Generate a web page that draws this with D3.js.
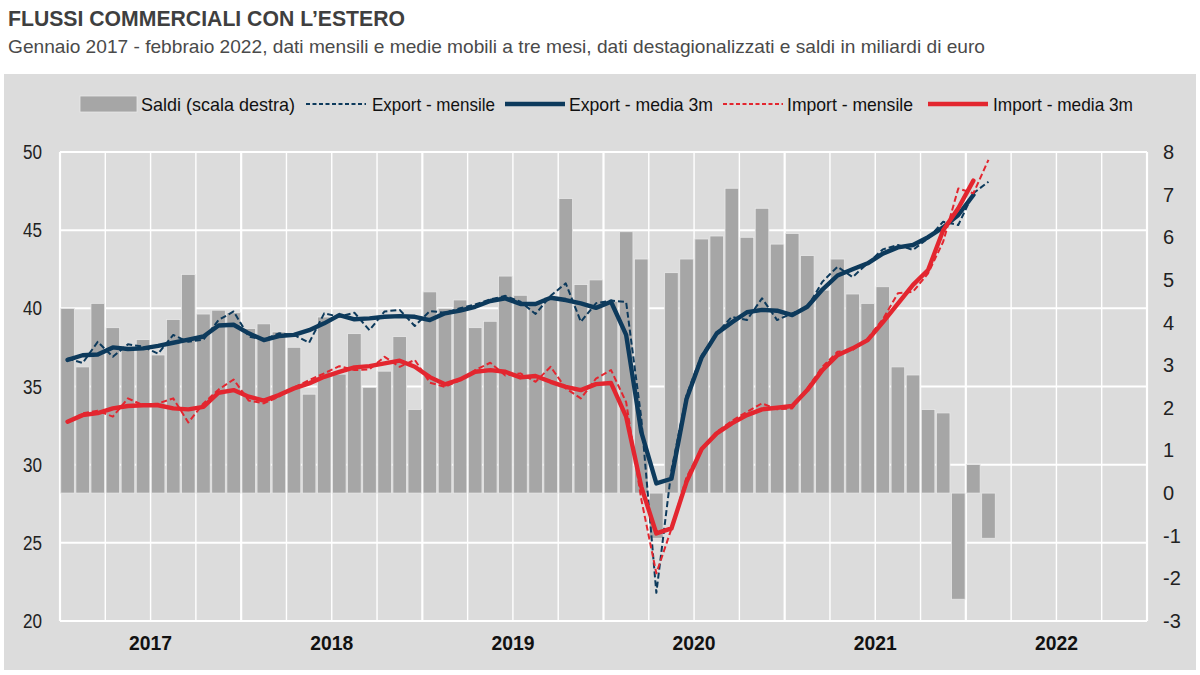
<!DOCTYPE html>
<html><head><meta charset="utf-8">
<script src="https://cdn.jsdelivr.net/npm/d3@7"></script>
<style>
body{margin:0;background:#fff}
svg{display:block}
text{font-family:"Liberation Sans Narrow","Arial Narrow","Liberation Sans",Arial,sans-serif}
</style>
</head><body>
<svg id="c" width="1200" height="675"></svg>
<script>
// ---------- DATA ----------
const years = ["2017","2018","2019","2020","2021","2022"];
const leftTicks = [20,25,30,35,40,45,50];
const rightTicks = [-3,-2,-1,0,1,2,3,4,5,6,7,8];
const legendLabels = ["Saldi (scala destra)","Export - mensile","Export - media 3m","Import - mensile","Import - media 3m"];

// monthly values from Jan 2017 (billions of euro)
const saldi = [4.33,2.96,4.45,3.88,3.36,3.6,3.24,4.07,5.13,4.2,4.29,4.23,
  3.86,3.97,3.78,3.42,2.32,4.13,2.79,3.74,2.48,2.86,3.67,1.96,
  4.72,4.33,4.53,3.88,4.03,5.09,4.64,4.45,4.6,6.91,4.89,5.0,
  4.5,6.13,5.49,-1.06,5.17,5.49,5.96,6.03,7.15,6.0,6.68,5.84,
  6.09,5.57,4.76,5.49,4.67,4.45,4.84,2.96,2.77,1.96,1.88,-2.49,
  0.67,-1.06];
const exportMensile = [36.8,36.5,37.86,36.9,37.7,37.55,37.1,38.3,37.86,38.0,39.25,39.8,
  38.2,38.0,38.4,38.3,37.8,39.68,39.46,39.72,38.6,39.8,39.9,38.87,
  39.83,39.72,40.0,40.25,40.57,40.8,40.42,39.64,40.8,41.6,39.14,40.32,
  40.5,40.4,33.0,21.8,29.65,34.45,37.0,38.4,39.46,39.25,40.64,39.25,
  39.68,40.06,41.7,42.66,42.0,42.88,43.77,44.05,43.73,44.48,45.54,45.33,
  47.36,48.1];
const exportMedia3m = [36.7,37.0,37.05,37.5,37.4,37.44,37.6,37.8,38.0,38.2,38.9,38.95,
  38.4,37.97,38.23,38.3,38.6,39.04,39.57,39.3,39.36,39.46,39.5,39.46,
  39.25,39.68,39.85,40.1,40.47,40.64,40.28,40.28,40.68,40.53,40.32,40.03,
  40.42,38.3,32.1,28.8,29.1,34.2,36.85,38.4,39.1,39.75,39.9,39.85,
  39.57,40.1,41.2,42.1,42.5,42.88,43.5,43.9,44.05,44.55,45.18,45.97,
  47.25];
const importMensile = [32.7,33.28,33.45,33.07,34.24,33.8,33.92,34.24,32.7,33.92,34.8,35.45,
  34.1,33.92,34.35,34.95,35.4,35.84,36.3,36.05,36.1,36.9,36.26,36.7,
  35.24,34.98,35.4,36.05,36.52,35.7,35.84,35.3,36.26,34.88,34.24,35.5,
  36.05,34.0,27.8,23.05,25.9,29.2,31.0,32.1,32.8,33.38,33.92,33.54,
  33.6,34.88,36.26,37.22,37.33,38.08,39.3,40.96,41.06,42.24,44.26,47.67,
  47.36,49.5];
const importMedia3m = [32.75,33.17,33.3,33.6,33.75,33.8,33.8,33.6,33.54,33.7,34.6,34.77,
  34.35,34.1,34.45,34.88,35.2,35.62,35.94,36.22,36.3,36.48,36.65,36.26,
  35.6,35.14,35.45,35.94,36.05,35.94,35.58,35.67,35.3,34.98,34.77,35.15,
  35.22,33.07,28.6,25.6,25.92,28.9,31.0,32.0,32.64,33.17,33.54,33.64,
  33.75,34.77,36.05,37.0,37.44,37.97,39.1,40.3,41.5,42.45,45.0,46.4,
  48.17];

// ---------- LAYOUT ----------
const svg = d3.select("#c");
const plot = {x0:60, x1:1147, y0:152, y1:621};
const navy = "#0d3a5c", red = "#e3262f", barFill = "#a6a6a6", bg = "#dcdcdc";

const months = years.flatMap(y => d3.range(12).map(m => y + "-" + String(m+1).padStart(2,"0")));

const x = d3.scaleBand().domain(months).range([plot.x0, plot.x1]).paddingInner(0.1).paddingOuter(0.05);
const xc = d => x(d) + x.bandwidth()/2;
const step = (plot.x1 - plot.x0) / months.length;
const yL = d3.scaleLinear().domain([20,50]).range([plot.y1, plot.y0]);
const yR = d3.scaleLinear().domain([-3,8]).range([plot.y1, plot.y0]);

// panel
svg.append("rect").attr("x",4).attr("y",74).attr("width",1192).attr("height",596).attr("fill",bg);

// title
svg.append("text").attr("x",8).attr("y",26).attr("font-size",22).attr("font-weight","bold")
  .attr("fill","#3f3f3f").attr("textLength",397).attr("lengthAdjust","spacingAndGlyphs")
  .text("FLUSSI COMMERCIALI CON L’ESTERO");
svg.append("text").attr("x",8).attr("y",53).attr("font-size",19)
  .attr("fill","#4a4a4a").attr("textLength",977).attr("lengthAdjust","spacingAndGlyphs")
  .text("Gennaio 2017 - febbraio 2022, dati mensili e medie mobili a tre mesi, dati destagionalizzati e saldi in miliardi di euro");

// gridlines
const g = svg.append("g");
g.selectAll("line.h").data(leftTicks).join("line")
  .attr("x1",plot.x0).attr("x2",plot.x1).attr("y1",d=>yL(d)).attr("y2",d=>yL(d))
  .attr("stroke","#fff").attr("stroke-width",2);
const vIdx = d3.range(0, months.length + 1, 3);
g.selectAll("line.v").data(vIdx).join("line")
  .attr("x1",d=>plot.x0 + d*step).attr("x2",d=>plot.x0 + d*step)
  .attr("y1",plot.y0).attr("y2",plot.y1)
  .attr("stroke","#fff").attr("stroke-width",d => d % 12 === 0 ? 2.2 : 1.4);

// bars
svg.append("g").selectAll("rect").data(saldi).join("rect")
  .attr("x",(d,i)=>x(months[i]))
  .attr("width",x.bandwidth())
  .attr("y",d=>yR(Math.max(0,d)))
  .attr("height",d=>Math.abs(yR(d)-yR(0)))
  .attr("fill",barFill).attr("stroke","#e8e8e8").attr("stroke-width",0.8);

// lines
const mkLine = (yScale) => d3.line().x((d,i)=>xc(months[i])).y(d=>yScale(d));
const lines = [
  {data:exportMensile, color:navy, w:2, dash:"6,3"},
  {data:exportMedia3m, color:navy, w:4.4, dash:null},
  {data:importMensile, color:red, w:2, dash:"6,3"},
  {data:importMedia3m, color:red, w:4.4, dash:null}
];
lines.forEach(l => {
  svg.append("path").datum(l.data).attr("d", mkLine(yL))
    .attr("fill","none").attr("stroke",l.color).attr("stroke-width",l.w)
    .attr("stroke-linejoin","round").attr("stroke-linecap", l.dash ? "butt" : "round")
    .attr("stroke-dasharray", l.dash);
});

// axes labels
svg.append("g").selectAll("text").data(leftTicks).join("text")
  .attr("x",42).attr("y",d=>yL(d)).attr("dy","0.35em").attr("text-anchor","end")
  .attr("font-size",20).attr("fill","#222").attr("textLength",19).attr("lengthAdjust","spacingAndGlyphs").text(d=>d);
svg.append("g").selectAll("text").data(rightTicks).join("text")
  .attr("x",1163).attr("y",d=>yR(d)).attr("dy","0.35em").attr("text-anchor","start")
  .attr("font-size",20).attr("fill","#222").text(d=>d);
svg.append("g").selectAll("text").data(years).join("text")
  .attr("x",(d,i)=>plot.x0 + (i*12+6)*step).attr("y",650).attr("text-anchor","middle")
  .attr("font-size",20).attr("font-weight","bold").attr("fill","#111")
  .attr("textLength",43).attr("lengthAdjust","spacingAndGlyphs").text(d=>d);

// legend
const legY = 104;
const leg = [
  {sx:80, tx:141, tw:154, type:"bar"},
  {sx:306, tx:372, tw:123, type:"dash", color:navy},
  {sx:505, tx:569, tw:144, type:"solid", color:navy},
  {sx:723, tx:787, tw:126, type:"dash", color:red},
  {sx:928, tx:993, tw:140, type:"solid", color:red}
];
const lg = svg.append("g");
leg.forEach((o,i) => {
  if (o.type === "bar") {
    lg.append("rect").attr("x",o.sx).attr("y",legY-8).attr("width",57).attr("height",16)
      .attr("fill",barFill).attr("stroke","#e8e8e8").attr("stroke-width",0.8);
  } else {
    lg.append("line").attr("x1",o.sx).attr("x2",o.sx+60).attr("y1",legY).attr("y2",legY)
      .attr("stroke",o.color).attr("stroke-width",o.type==="solid"?4.4:2)
      .attr("stroke-dasharray",o.type==="dash"?"4,2.5":null);
  }
  lg.append("text").attr("x",o.tx).attr("y",legY).attr("dy","0.35em")
    .attr("font-size",19).attr("fill","#111")
    .attr("textLength",o.tw).attr("lengthAdjust","spacingAndGlyphs").text(legendLabels[i]);
});
</script>
</body></html>
